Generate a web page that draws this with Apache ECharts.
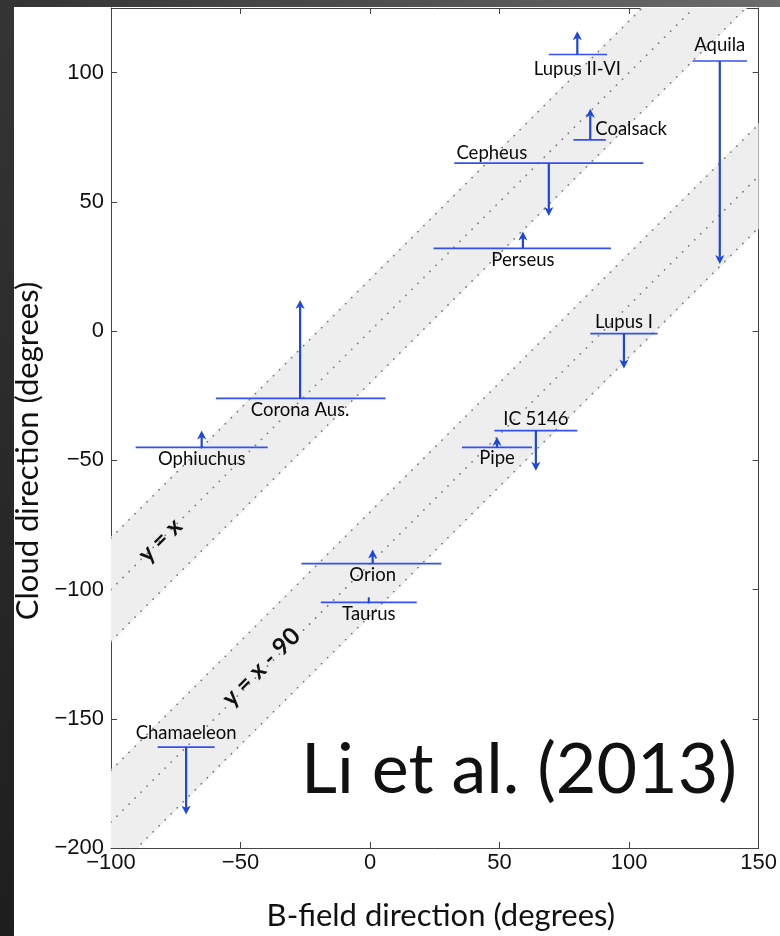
<!DOCTYPE html>
<html>
<head>
<meta charset="utf-8">
<script src="https://cdn.jsdelivr.net/npm/echarts@6/dist/echarts.min.js"></script>
<style>
  html, body { margin: 0; padding: 0; background: #ffffff; }
  #chart { width: 780px; height: 936px; }
</style>
</head>
<body>
<div id="chart"></div>
<script>
// Molecular clouds: B-field direction range, arrow position and cloud direction (degrees)
const cloudNames = ['Lupus II-VI', 'Aquila', 'Coalsack', 'Cepheus', 'Perseus', 'Corona Aus.',
                    'Ophiuchus', 'Lupus I', 'IC 5146', 'Pipe', 'Orion', 'Taurus', 'Chamaeleon'];
const bFieldLow  = [69, 124.5, 78.5, 32.5, 24.5, -59.5, -90.5, 85, 48, 35.5, -26.5, -19, -82];
const bFieldHigh = [91.5, 145.5, 91, 105.5, 93, 6, -39.5, 111, 80, 62.5, 27.5, 18, -60];
const bFieldArrow = [80, 135, 85, 69, 59, -27, -65, 98, 64, 49, 1, -0.5, -71];
const cloudDir   = [107, 104.5, 74, 65, 32, -26, -45, -1, -38.5, -45, -90, -105, -161];
const arrowEnd   = [116, 26, 86, 44.5, 38.5, 12, -38.5, -14.5, -54, -41, -84.5, -103, -187];

// Reference relations y = x + offset with +/- 20 degree bands
const bandOffsets = [0, -90];
const bandNames = ['y = x', 'y = x - 90'];
const bandHalfWidth = 20;

// Axis tick values
const xTicks = [-100, -50, 0, 50, 100, 150];
const yTicks = [-200, -150, -100, -50, 0, 50, 100];

// Label placement for each cloud name (pixels relative to the arrow foot)
const labelLayout = {
  'Lupus II-VI': { dx: 0, dy: 15 },
  'Aquila':      { dx: 0, dy: -16 },
  'Coalsack':    { dx: 5, dy: -11, align: 'left' },
  'Cepheus':     { dx: -57, dy: -10 },
  'Perseus':     { dx: 0, dy: 11.5 },
  'Corona Aus.': { dx: 0, dy: 11.5 },
  'Ophiuchus':   { dx: 0, dy: 12 },
  'Lupus I':     { dx: 0, dy: -12 },
  'IC 5146':     { dx: 0, dy: -12 },
  'Pipe':        { dx: 0, dy: 11 },
  'Orion':       { dx: 0, dy: 11.5 },
  'Taurus':      { dx: 0, dy: 12 },
  'Chamaeleon':  { dx: 0, dy: -14 }
};
// Where along each band its name is written (x and offset from the band centre, degrees)
const bandLabelX = [-81, -42];
const bandLabelLift = [0, 2];

const X_MIN = -100, X_MAX = 150, Y_MIN = -200, Y_MAX = 125;

const cloudRows = cloudNames.map((n, i) =>
  [bFieldLow[i], bFieldHigh[i], bFieldArrow[i], cloudDir[i], arrowEnd[i], n]);
const bandRows = bandOffsets.map((o, i) => [o, bandHalfWidth, bandLabelX[i], bandNames[i]]);

const minus = v => String(v).replace('-', '\u2212');

function renderBand(params, api) {
  const off = api.value(0), hw = api.value(1), lx = api.value(2);
  const name = bandNames[params.dataIndex];
  const pad = 0.5;
  const pts = [
    api.coord([X_MIN, X_MIN + off + hw + pad]),
    api.coord([X_MAX, X_MAX + off + hw + pad]),
    api.coord([X_MAX, X_MAX + off - hw - pad]),
    api.coord([X_MIN, X_MIN + off - hw - pad])
  ];
  const children = [{
    type: 'polygon', shape: { points: pts },
    style: { fill: '#eeeeee' }, z2: 0
  }];
  [hw, 0, -hw].forEach(d => {
    const a = api.coord([X_MIN, X_MIN + off + d]);
    const b = api.coord([X_MAX, X_MAX + off + d]);
    children.push({
      type: 'line',
      shape: { x1: a[0], y1: a[1], x2: b[0], y2: b[1] },
      style: { stroke: '#7a7a7a', lineWidth: 1.7, lineDash: [0.1, 8.4], lineCap: 'round' },
      z2: 1
    });
  });
  const c = api.coord([lx, lx + off + bandLabelLift[params.dataIndex]]);
  children.push({
    type: 'text', x: c[0], y: c[1], rotation: Math.PI / 4,
    style: {
      text: name, fill: '#111', align: 'center', verticalAlign: 'middle',
      font: 'bold 24px Lato'
    },
    z2: 2
  });
  return { type: 'group', children };
}

function renderCloud(params, api) {
  const y = api.value(3);
  const lo = api.coord([api.value(0), y]);
  const hi = api.coord([api.value(1), y]);
  const foot = api.coord([api.value(2), y]);
  const tip = api.coord([api.value(2), api.value(4)]);
  const name = cloudNames[params.dataIndex];
  const lay = labelLayout[name] || { dx: 0, dy: 12 };
  const children = [];
  children.push({
    type: 'line',
    shape: { x1: lo[0], y1: lo[1], x2: hi[0], y2: hi[1] },
    style: { stroke: '#3550f2', lineWidth: 1.7 }
  });
  const len = Math.abs(tip[1] - foot[1]);
  const dir = tip[1] < foot[1] ? -1 : 1;
  if (len > 10) {
    const headLen = 9, headHalf = 4.6, notch = 6.5;
    children.push({
      type: 'line',
      shape: { x1: foot[0], y1: foot[1], x2: tip[0], y2: tip[1] - dir * notch },
      style: { stroke: '#1d45e2', lineWidth: 2.2 }
    });
    children.push({
      type: 'polygon',
      shape: { points: [
        [tip[0], tip[1]],
        [tip[0] - headHalf, tip[1] - dir * headLen],
        [tip[0], tip[1] - dir * notch],
        [tip[0] + headHalf, tip[1] - dir * headLen]
      ] },
      style: { fill: '#1d45e2' }
    });
  } else {
    children.push({
      type: 'line',
      shape: { x1: foot[0], y1: foot[1] + 1, x2: tip[0], y2: tip[1] },
      style: { stroke: '#1d45e2', lineWidth: 2 }
    });
  }
  children.push({
    type: 'text', x: foot[0] + lay.dx, y: foot[1] + lay.dy,
    style: {
      text: name, fill: '#0a0a0a', align: lay.align || 'center', verticalAlign: 'middle',
      font: '18.5px Lato'
    }
  });
  return { type: 'group', children };
}

const chart = echarts.init(document.getElementById('chart'), null, { renderer: 'canvas' });

const axisCommon = {
  axisLine: { show: true, onZero: false, lineStyle: { color: '#444', width: 1 } },
  axisTick: { show: true, inside: true, length: 6, lineStyle: { color: '#444', width: 1 } },
  splitLine: { show: false }
};

chart.setOption({
  backgroundColor: '#ffffff',
  animation: false,
  grid: { left: 111, right: 20, top: 8, bottom: 84, containLabel: false },
  xAxis: [
    Object.assign({
      type: 'value', min: X_MIN, max: X_MAX, interval: 50, position: 'bottom',
      name: 'B-field direction (degrees)', nameLocation: 'middle', nameGap: 52,
      nameTextStyle: { fontFamily: 'Lato', fontSize: 31, color: '#111', padding: [0, 0, 0, 12] },
      axisLabel: {
        margin: 4, fontFamily: 'Liberation Sans', fontSize: 22, color: '#111',
        formatter: v => xTicks.includes(v) ? minus(v) : ''
      }
    }, axisCommon),
    Object.assign({
      type: 'value', min: X_MIN, max: X_MAX, interval: 50, position: 'top',
      axisLabel: { show: false }
    }, axisCommon)
  ],
  yAxis: [
    Object.assign({
      type: 'value', min: Y_MIN, max: Y_MAX, interval: 50, position: 'left',
      name: 'Cloud direction (degrees)', nameLocation: 'middle', nameGap: 66,
      nameTextStyle: { fontFamily: 'Lato', fontSize: 31, color: '#111', padding: [0, 46, 0, 0] },
      axisLabel: {
        margin: 7, fontFamily: 'Liberation Sans', fontSize: 22, color: '#111',
        showMaxLabel: false,
        formatter: v => yTicks.includes(v) ? minus(v) : ''
      }
    }, axisCommon),
    Object.assign({
      type: 'value', min: Y_MIN, max: Y_MAX, interval: 50, position: 'right',
      axisLabel: { show: false }
    }, axisCommon)
  ],
  series: [
    {
      type: 'custom', name: 'bands', clip: true, silent: true,
      data: bandRows, renderItem: renderBand,
      encode: { x: 2, y: 0 }, z: 1
    },
    {
      type: 'custom', name: 'clouds', clip: false, silent: true,
      data: cloudRows, renderItem: renderCloud,
      encode: { x: [0, 1, 2], y: [3, 4] }, z: 3
    }
  ],
  graphic: [
    {
      type: 'rect', left: 0, top: 0, z: -10, silent: true,
      shape: { width: 780, height: 7 },
      style: { fill: new echarts.graphic.LinearGradient(0, 0, 1, 0, [
        { offset: 0, color: '#333333' }, { offset: 1, color: '#6c6c6c' }]) }
    },
    {
      type: 'rect', left: 0, top: 0, z: -10, silent: true,
      shape: { width: 14, height: 936 },
      style: { fill: new echarts.graphic.LinearGradient(0, 0, 0, 1, [
        { offset: 0, color: '#353535' }, { offset: 1, color: '#1e1e1e' }]) }
    },
    {
      type: 'text', z: 10, silent: true,
      style: { x: 519, y: 770, text: 'Li et al. (2013)', font: '70px Lato', fill: '#111',
               align: 'center', verticalAlign: 'middle' }
    }
  ]
});
</script>
</body>
</html>
